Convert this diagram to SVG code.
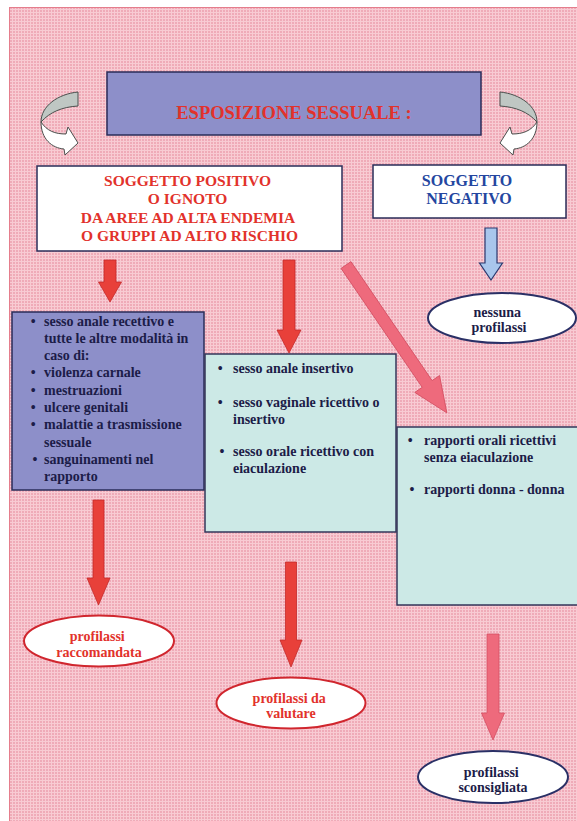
<svg xmlns="http://www.w3.org/2000/svg" width="577" height="821" viewBox="0 0 577 821">
  <defs>
    <pattern id="grid" width="3" height="3" patternUnits="userSpaceOnUse">
      <rect width="3" height="3" fill="#efabb8"/>
      <path d="M0 0.5H3M0.5 0V3" stroke="#f8cbd3" stroke-width="1"/>
    </pattern>
    <style>
      text { font-family: 'Liberation Serif', 'Times New Roman', serif; font-weight: bold; }
      .box-blue { fill: #8d8fc9; stroke: #2a2c58; stroke-width: 1.5; }
      .box-aqua { fill: #cce9e6; stroke: #33365a; stroke-width: 1.5; }
      .box-white { fill: #ffffff; stroke: #2a2c58; stroke-width: 1.5; }
      .arrow-red { fill: #e8403a; stroke: #c42a2a; stroke-width: 0.8; }
      .arrow-pink { fill: #ee6a7c; stroke: #d44e62; stroke-width: 0.8; }
      .arrow-blue { fill: #a9c6ec; stroke: #2a3a70; stroke-width: 1.2; }
      .curl-gray { fill: #bfc7c3; stroke: #4a4f4d; stroke-width: 1; }
      .curl-white { fill: #ffffff; stroke: #4a4f4d; stroke-width: 1; }
      .ell-red { fill: #ffffff; stroke: #d0262e; stroke-width: 2; }
      .ell-navy { fill: #ffffff; stroke: #2a3066; stroke-width: 2; }
      .t-red { fill: #e2322b; }
      .t-blue { fill: #2446a0; }
      .t-navy { fill: #1c1c48; }
      .head { font-size: 15.5px; text-anchor: middle; }
      .list { font-size: 14px; }
      .oval { font-size: 14px; text-anchor: middle; }
    </style>
  </defs>

  <!-- page -->
  <rect width="577" height="821" fill="#ffffff"/>
  <rect x="9.5" y="7.5" width="570" height="816" fill="url(#grid)" stroke="#e57d8c" stroke-width="1"/>

  <!-- connectors -->
  <g id="connectors">
    <!-- curled arrows from the title -->
    <g id="curl-left">
      <path class="curl-gray" d="M78,92 C58,94 41,106 41,122 C50,112 62,107 78,106 Z"/>
      <path class="curl-white" d="M41,122 C47,131 55,134 66,134 L68,127 L78,143 L65,155 L64,149 C52,148 41,139 41,122 Z"/>
    </g>
    <g id="curl-right" transform="translate(578,0) scale(-1,1)">
      <path class="curl-gray" d="M78,92 C58,94 41,106 41,122 C50,112 62,107 78,106 Z"/>
      <path class="curl-white" d="M41,122 C47,131 55,134 66,134 L68,127 L78,143 L65,155 L64,149 C52,148 41,139 41,122 Z"/>
    </g>
    <!-- negative subject to no prophylaxis -->
    <polygon class="arrow-blue" points="485,228 497,228 497,263 502.5,263 491,280 479.5,263 485,263"/>
    <!-- positive subject to the three groups -->
    <polygon class="arrow-red" points="104,260 116,260 116,282 121.5,282 110,302 98.5,282 104,282"/>
    <polygon class="arrow-red" points="283,260 295,260 295,330 301,330 289,353 277,330 283,330"/>
    <polygon class="arrow-pink" transform="translate(346,265) rotate(-34.3)" points="-6,0 6,0 6,144 15,144 0,179 -15,144 -6,144"/>
    <!-- groups to outcomes -->
    <polygon class="arrow-red" points="93,500 104,500 104,578 110,578 98.5,605 87,578 93,578"/>
    <polygon class="arrow-red" points="285.5,562 296.5,562 296.5,640 302,640 291,667 280,640 285.5,640"/>
    <polygon class="arrow-pink" points="487,634 499,634 499,713 504.5,713 493,740 481.5,713 487,713"/>
  </g>

  <g font-family="'Liberation Serif', 'Times New Roman', serif" font-weight="bold">
  <!-- title -->
  <g id="title">
    <rect class="box-blue" x="107" y="72" width="374" height="63"/>
    <text class="t-red" x="294" y="118.5" font-size="18.5" text-anchor="middle">ESPOSIZIONE SESSUALE :</text>
  </g>

  <!-- positive / unknown subject -->
  <g id="positive">
    <rect class="box-white" x="37" y="166" width="305" height="85"/>
    <text class="t-red head">
      <tspan x="189.5" y="186">SOGGETTO POSITIVO</tspan>
      <tspan x="189.5" y="204">O IGNOTO</tspan>
      <tspan x="189.5" y="222.5">DA AREE AD ALTA ENDEMIA</tspan>
      <tspan x="189.5" y="241">O GRUPPI AD ALTO RISCHIO</tspan>
    </text>
  </g>

  <!-- negative subject -->
  <g id="negative">
    <rect class="box-white" x="373" y="165" width="193" height="53"/>
    <text class="t-blue head" style="font-size:16px">
      <tspan x="469" y="186">SOGGETTO</tspan>
      <tspan x="469" y="204">NEGATIVO</tspan>
    </text>
  </g>

  <!-- no prophylaxis -->
  <g id="nessuna">
    <ellipse class="ell-navy" cx="502" cy="318" rx="74" ry="25"/>
    <text class="t-navy oval">
      <tspan x="499" y="317">nessuna</tspan>
      <tspan x="499" y="332">profilassi</tspan>
    </text>
  </g>

  <!-- high risk practices -->
  <g id="group-high">
    <rect class="box-blue" x="12" y="312" width="192" height="178"/>
    <text class="t-navy list" text-anchor="middle">
      <tspan x="35" y="325.5">•</tspan>
      <tspan x="35" y="377.4">•</tspan>
      <tspan x="35" y="394.7">•</tspan>
      <tspan x="35" y="412">•</tspan>
      <tspan x="35" y="429.3">•</tspan>
      <tspan x="35" y="463.9">•</tspan>
    </text>
    <text class="t-navy list">
      <tspan x="44" y="325.5">sesso anale recettivo e</tspan>
      <tspan x="44" y="342.8">tutte le altre modalità in</tspan>
      <tspan x="44" y="360.1">caso di:</tspan>
      <tspan x="44" y="377.4">violenza carnale</tspan>
      <tspan x="44" y="394.7">mestruazioni</tspan>
      <tspan x="44" y="412">ulcere genitali</tspan>
      <tspan x="44" y="429.3">malattie a trasmissione</tspan>
      <tspan x="44" y="446.6">sessuale</tspan>
      <tspan x="44" y="463.9">sanguinamenti nel</tspan>
      <tspan x="44" y="481.2">rapporto</tspan>
    </text>
  </g>

  <!-- medium risk practices -->
  <g id="group-medium">
    <rect class="box-aqua" x="205" y="354" width="191" height="178"/>
    <text class="t-navy list" text-anchor="middle">
      <tspan x="222" y="372.5">•</tspan>
      <tspan x="222" y="406.5">•</tspan>
      <tspan x="222" y="455.5">•</tspan>
    </text>
    <text class="t-navy list">
      <tspan x="233" y="372.5">sesso anale insertivo</tspan>
      <tspan x="233" y="406.5">sesso vaginale ricettivo o</tspan>
      <tspan x="233" y="423.5">insertivo</tspan>
      <tspan x="233" y="455.5">sesso orale ricettivo con</tspan>
      <tspan x="233" y="472.5">eiaculazione</tspan>
    </text>
  </g>

  <!-- low risk practices -->
  <g id="group-low">
    <rect class="box-aqua" x="397" y="427" width="185" height="178"/>
    <text class="t-navy list" text-anchor="middle">
      <tspan x="412" y="444.5">•</tspan>
      <tspan x="412" y="493.5">•</tspan>
    </text>
    <text class="t-navy list">
      <tspan x="424" y="444.5">rapporti orali ricettivi</tspan>
      <tspan x="424" y="461.5">senza eiaculazione</tspan>
      <tspan x="424" y="493.5">rapporti donna - donna</tspan>
    </text>
  </g>

  <!-- outcomes -->
  <g id="raccomandata">
    <ellipse class="ell-red" cx="99" cy="641" rx="75" ry="25.5"/>
    <text class="t-red oval">
      <tspan x="99" y="640.5">profilassi</tspan>
      <tspan x="99" y="656.5">raccomandata</tspan>
    </text>
  </g>
  <g id="valutare">
    <ellipse class="ell-red" cx="291" cy="703" rx="74.5" ry="25.5"/>
    <text class="t-red oval">
      <tspan x="291" y="702.5">profilassi da</tspan>
      <tspan x="291" y="718">valutare</tspan>
    </text>
  </g>
  <g id="sconsigliata">
    <ellipse class="ell-navy" cx="493" cy="777" rx="75" ry="26"/>
    <text class="t-navy oval">
      <tspan x="493" y="776.5">profilassi</tspan>
      <tspan x="493" y="792">sconsigliata</tspan>
    </text>
  </g>
  </g>
</svg>
